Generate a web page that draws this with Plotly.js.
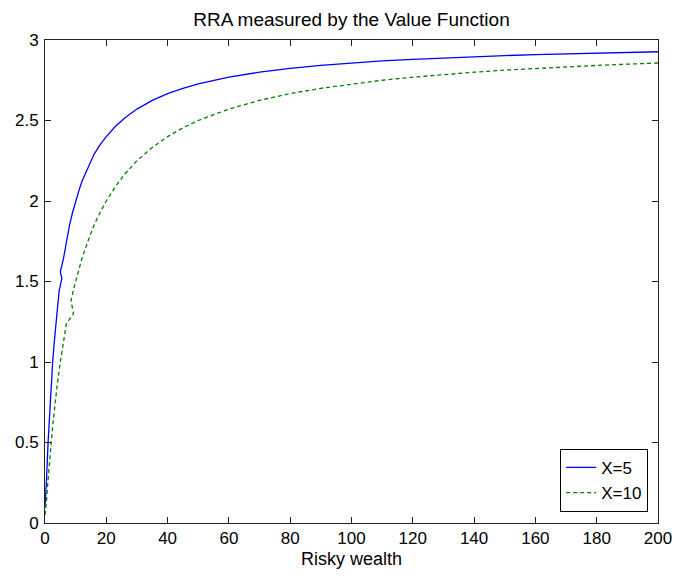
<!DOCTYPE html>
<html>
<head>
<meta charset="utf-8">
<script src="https://cdn.plot.ly/plotly-3.0.1.min.js"></script>
<style>html,body{margin:0;padding:0;background:#fff;}#chart{width:674px;height:576px;}</style>
</head>
<body>
<div id="chart"></div>
<script>
// Risky wealth sample points and RRA values
const wealthX5 = [0, 0.25, 0.5, 1, 1.5, 2, 2.5, 3, 3.5, 4, 4.6, 5.5, 5.0, 6, 7, 8, 9, 10, 11, 12, 14, 16, 18, 20, 23, 26, 30, 35, 40, 45, 50, 55, 60, 70, 80, 90, 100, 110, 120, 130, 140, 150, 160, 170, 180, 190, 200];
const rraX5    = [0.1, 0.18, 0.27, 0.5, 0.69, 0.86, 1.0, 1.12, 1.23, 1.33, 1.44, 1.52, 1.56, 1.64, 1.75, 1.85, 1.93, 2.0, 2.06, 2.12, 2.21, 2.29, 2.35, 2.4, 2.464, 2.516, 2.571, 2.625, 2.667, 2.7, 2.727, 2.75, 2.769, 2.8, 2.824, 2.842, 2.857, 2.87, 2.88, 2.889, 2.897, 2.903, 2.909, 2.914, 2.919, 2.923, 2.927];

const wealthX10 = [0, 0.25, 0.5, 1, 1.5, 2, 2.5, 3, 3.5, 4, 5, 6, 7, 9.3, 8.5, 9.3, 10, 11, 12, 14, 16, 18, 20, 23, 26, 30, 35, 40, 45, 50, 55, 60, 70, 80, 90, 100, 110, 120, 130, 140, 150, 160, 170, 180, 190, 200];
const rraX10    = [0.05, 0.09, 0.14, 0.27, 0.39, 0.5, 0.6, 0.69, 0.78, 0.86, 1.0, 1.12, 1.24, 1.30, 1.38, 1.45, 1.5, 1.57, 1.64, 1.75, 1.85, 1.93, 2.0, 2.09, 2.167, 2.25, 2.333, 2.4, 2.455, 2.5, 2.538, 2.571, 2.625, 2.667, 2.7, 2.727, 2.75, 2.769, 2.786, 2.8, 2.813, 2.824, 2.833, 2.842, 2.85, 2.857];

const seriesNames = ['X=5', 'X=10'];
const xTicks = [0, 20, 40, 60, 80, 100, 120, 140, 160, 180, 200];
const yTicks = [0, 0.5, 1, 1.5, 2, 2.5, 3];
const yTickText = ['0', '0.5', '1', '1.5', '2', '2.5', '3'];

const fontFam = 'Liberation Sans, Arial, sans-serif';

const traces = [
  {x: wealthX5, y: rraX5, name: seriesNames[0], mode: 'lines', type: 'scatter',
   line: {color: '#0000ff', width: 1.3}},
  {x: wealthX10, y: rraX10, name: seriesNames[1], mode: 'lines', type: 'scatter',
   line: {color: '#008000', width: 1.3, dash: '4px,3px'}}
];

const axisCommon = {
  showline: true, linecolor: '#222', linewidth: 1, mirror: 'ticks',
  ticks: 'inside', ticklen: 6, tickcolor: '#222', tickwidth: 1,
  showgrid: false, zeroline: false,
  tickfont: {family: fontFam, size: 17, color: '#000'}
};

const layout = {
  width: 674, height: 576,
  margin: {l: 45, r: 16, t: 40, b: 53},
  paper_bgcolor: '#fff', plot_bgcolor: '#fff',
  title: {text: 'RRA measured by the Value Function', x: 0.5215, xanchor: 'center', y: 0.966, yanchor: 'middle',
          font: {family: fontFam, size: 19, color: '#000'}},
  xaxis: Object.assign({}, axisCommon, {
    range: [0, 200], tickvals: xTicks, ticktext: xTicks.map(String),
    title: {text: 'Risky wealth', standoff: 4, font: {family: fontFam, size: 18, color: '#000'}}
  }),
  yaxis: Object.assign({}, axisCommon, {
    range: [0, 3], tickvals: yTicks, ticktext: yTickText, ticklabelstandoff: 2
  }),
  showlegend: true,
  legend: {x: 0.984, xanchor: 'right', y: 0.023, yanchor: 'bottom',
           bgcolor: '#fff', bordercolor: '#000', borderwidth: 1,
           font: {family: fontFam, size: 17, color: '#000'}, tracegroupgap: 0}
};

Plotly.newPlot('chart', traces, layout, {displayModeBar: false, staticPlot: true});
</script>
</body>
</html>
